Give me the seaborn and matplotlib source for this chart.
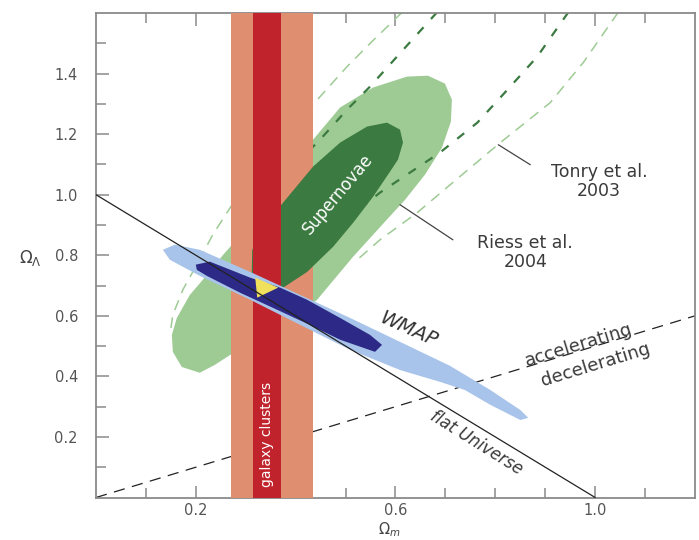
import numpy as np
import pandas as pd
import matplotlib
matplotlib.use("Agg")
import matplotlib.pyplot as plt
import seaborn as sns

# galaxy cluster bands (Omega_m ranges)
clusters_outer = (0.27, 0.435)
clusters_inner = (0.315, 0.37)

# supernovae contours (outline points)
sn_outer_x = [0.208, 0.172, 0.154, 0.152, 0.162, 0.188, 0.214, 0.255, 0.299, 0.349, 0.435, 0.489, 0.555, 0.623,
              0.665, 0.699, 0.713, 0.711, 0.693, 0.659, 0.619, 0.579, 0.515, 0.443, 0.369, 0.309, 0.269, 0.238]
sn_outer_y = [0.412, 0.431, 0.481, 0.537, 0.593, 0.669, 0.719, 0.802, 0.884, 0.983, 1.182, 1.288, 1.354, 1.390,
              1.393, 1.367, 1.314, 1.241, 1.155, 1.066, 0.983, 0.911, 0.795, 0.653, 0.560, 0.504, 0.471, 0.438]
sn_inner_x = [0.583, 0.609, 0.615, 0.605, 0.589, 0.555, 0.515, 0.475, 0.423, 0.375, 0.333, 0.312, 0.313, 0.339,
              0.375, 0.435, 0.489, 0.543]
sn_inner_y = [1.238, 1.215, 1.172, 1.116, 1.076, 0.993, 0.907, 0.828, 0.745, 0.693, 0.686, 0.736, 0.818, 0.901,
              0.974, 1.093, 1.172, 1.225]

# Tonry et al. 2003 (light) and Riess et al. 2004 (dark) dashed contours
tonry_left_x = [0.613, 0.553, 0.503, 0.449, 0.389, 0.329, 0.279, 0.234, 0.202, 0.174, 0.154, 0.148]
tonry_left_y = [1.602, 1.506, 1.423, 1.324, 1.215, 1.099, 0.983, 0.868, 0.769, 0.686, 0.603, 0.537]
tonry_right_x = [1.046, 0.976, 0.910, 0.810, 0.729, 0.643, 0.569, 0.519]
tonry_right_y = [1.602, 1.436, 1.304, 1.172, 1.060, 0.940, 0.851, 0.779]
riess_left_x = [0.683, 0.603, 0.549, 0.503, 0.449, 0.409]
riess_left_y = [1.602, 1.456, 1.357, 1.281, 1.182, 1.116]
riess_right_x = [0.946, 0.884, 0.830, 0.764, 0.689, 0.629, 0.569, 0.539]
riess_right_y = [1.602, 1.456, 1.357, 1.238, 1.139, 1.073, 1.007, 0.967]

# WMAP contours
wmap_outer_x = [0.134, 0.158, 0.208, 0.309, 0.409, 0.509, 0.609, 0.709, 0.790, 0.850, 0.866,
                0.850, 0.790, 0.739, 0.689, 0.609, 0.509, 0.409, 0.309, 0.208, 0.148]
wmap_outer_y = [0.818, 0.835, 0.818, 0.745, 0.669, 0.593, 0.514, 0.435, 0.355, 0.289, 0.263,
                0.256, 0.306, 0.355, 0.382, 0.421, 0.488, 0.570, 0.653, 0.732, 0.785]
wmap_inner_x = [0.200, 0.228, 0.309, 0.369, 0.423, 0.489, 0.549, 0.573,
                0.559, 0.489, 0.423, 0.355, 0.289, 0.222, 0.202]
wmap_inner_y = [0.769, 0.779, 0.726, 0.693, 0.653, 0.593, 0.537, 0.504,
                0.481, 0.521, 0.574, 0.626, 0.676, 0.732, 0.752]

# overlap of all three
overlap_x = [0.319, 0.365, 0.323]
overlap_y = [0.726, 0.693, 0.660]

# reference lines
flat_x = [0.0, 1.0]
flat_y = [1.0, 0.0]
accel_x = [0.0, 1.2]
accel_y = [0.0, 0.6]

# leader lines for the labels
tonry_lead_x = [0.806, 0.870]
tonry_lead_y = [1.165, 1.099]
riess_lead_x = [0.609, 0.715]
riess_lead_y = [0.967, 0.851]

sns.set_theme(style="white")
plt.rcParams['font.family'] = ['DejaVu Sans']

fig = plt.figure(figsize=(6.99, 5.40), dpi=100)
ax = fig.add_axes([0.1373, 0.0787, 0.857, 0.8972])

ax.fill(sn_outer_x, sn_outer_y, color='#9ecb94', lw=0, zorder=1)

for xs, ys in [(tonry_left_x, tonry_left_y), (tonry_right_x, tonry_right_y)]:
    df = pd.DataFrame({'x': xs, 'y': ys})
    sns.lineplot(data=df, x='x', y='y', sort=False, estimator=None, ax=ax, color='#9ecb94',
                 lw=1.1, linestyle=(0, (7, 5)), zorder=2)
for xs, ys in [(riess_left_x, riess_left_y), (riess_right_x, riess_right_y)]:
    df = pd.DataFrame({'x': xs, 'y': ys})
    sns.lineplot(data=df, x='x', y='y', sort=False, estimator=None, ax=ax, color='#3b7a40',
                 lw=1.6, linestyle=(0, (4, 5)), zorder=2)

sns.lineplot(x=accel_x, y=accel_y, ax=ax, color='#222222', lw=0.9, linestyle=(0, (9, 6)), zorder=2)

ax.axvspan(*clusters_outer, color='#df8e70', lw=0, zorder=3)
ax.fill(sn_inner_x, sn_inner_y, color='#3b7a40', lw=0, zorder=4)
ax.axvspan(*clusters_inner, color='#c1232c', lw=0, zorder=5)

ax.fill(wmap_outer_x, wmap_outer_y, color='#a8c4ea', lw=0, zorder=6)
ax.fill(wmap_inner_x, wmap_inner_y, color='#2c2a86', lw=0, zorder=7)
ax.fill(overlap_x, overlap_y, color='#f1e05c', lw=0, zorder=8)

sns.lineplot(x=flat_x, y=flat_y, ax=ax, color='#222222', lw=0.9, zorder=9)

ax.plot(tonry_lead_x, tonry_lead_y, color='#444444', lw=0.9, zorder=9)
ax.plot(riess_lead_x, riess_lead_y, color='#444444', lw=0.9, zorder=9)

txt = '#3a3a3a'
ax.text(1.008, 1.043, 'Tonry et al.\n2003', ha='center', va='center', fontsize=12.5, color=txt,
        linespacing=1.05, zorder=10)
ax.text(0.86, 0.81, 'Riess et al.\n2004', ha='center', va='center', fontsize=12.5, color=txt,
        linespacing=1.05, zorder=10)
ax.text(0.485, 1.0, 'Supernovae', rotation=50, ha='center', va='center', fontsize=12, color='white',
        rotation_mode='anchor', zorder=10)
ax.text(0.342, 0.207, 'galaxy clusters', rotation=90, ha='center', va='center', fontsize=10, color='white',
        rotation_mode='anchor', zorder=10)
ax.text(0.625, 0.554, 'WMAP', rotation=-24, ha='center', va='center', fontsize=14, color='#333333',
        style='italic', rotation_mode='anchor', zorder=10)
ax.text(0.763, 0.18, 'flat Universe', rotation=-32, ha='center', va='center', fontsize=12, color=txt,
        style='italic', rotation_mode='anchor', zorder=10)
ax.text(0.966, 0.504, 'accelerating', rotation=17, ha='center', va='center', fontsize=13, color=txt,
        rotation_mode='anchor', zorder=10)
ax.text(1.0, 0.438, 'decelerating', rotation=17, ha='center', va='center', fontsize=13, color=txt,
        rotation_mode='anchor', zorder=10)

ax.set_xlim(0, 1.2)
ax.set_ylim(0, 1.6)
ax.set_xticks([0.2, 0.6, 1.0])
ax.set_xticklabels(['0.2', '0.6', '1.0'])
ax.set_xticks([0.1, 0.3, 0.4, 0.5, 0.7, 0.8, 0.9, 1.1], minor=True)
ax.set_yticks([0.2, 0.4, 0.6, 0.8, 1.0, 1.2, 1.4])
ax.set_yticklabels(['0.2', '0.4', '0.6', '0.8', '1.0', '1.2', '1.4'])
ax.set_yticks([0.1, 0.3, 0.5, 0.7, 0.9, 1.1, 1.3, 1.5], minor=True)
ax.tick_params(which='both', direction='in', top=True, right=False, bottom=True, left=True,
               color='#8a8a8a', width=1.1, labelsize=10.5, labelcolor='#555555')
ax.tick_params(axis='x', pad=4)
ax.tick_params(axis='y', pad=13)
ax.tick_params(which='major', length=9)
ax.tick_params(which='minor', length=7)
for s in ax.spines.values():
    s.set_color('#8a8a8a')
    s.set_linewidth(1.3)

ax.set_xlabel(r'$\Omega_m$', fontsize=10.5, color='#444444', va='top')
ax.xaxis.set_label_coords(0.49, -0.048)
ax.set_ylabel(r'$\Omega_\Lambda$', fontsize=12, color='#444444', rotation=0)
ax.yaxis.set_label_coords(-0.11, 0.473)

fig.savefig('out.png', dpi=100)
